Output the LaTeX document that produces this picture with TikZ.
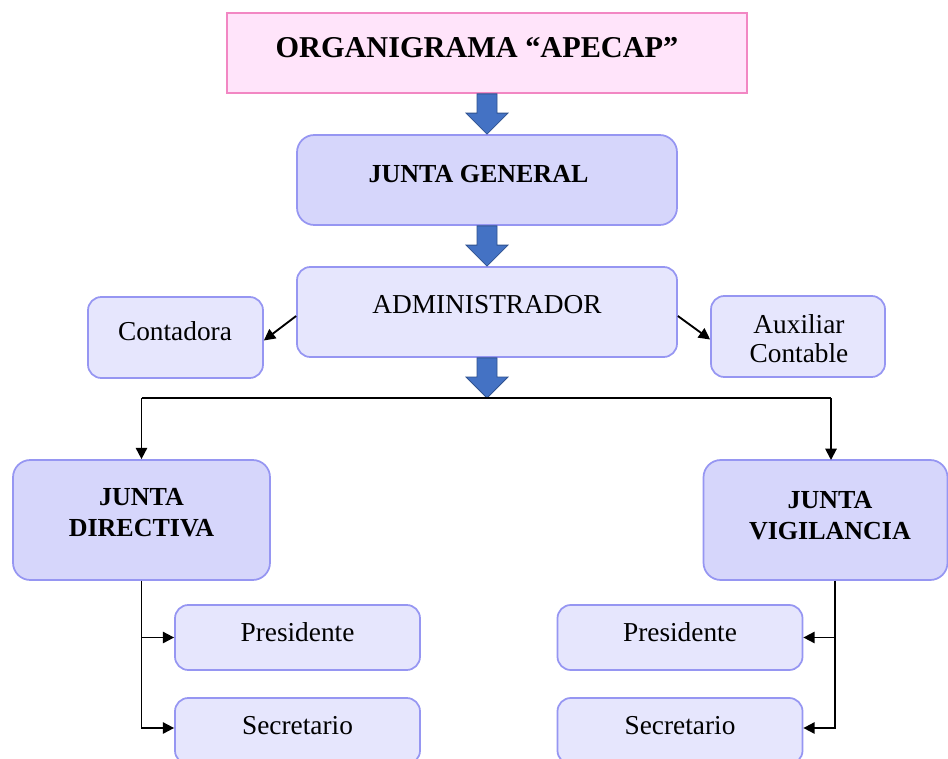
\documentclass[tikz,border=0pt]{standalone}
\usepackage{fontspec}
\setmainfont{Liberation Serif}
\usetikzlibrary{arrows.meta,calc}
\definecolor{darkfill}{RGB}{214,214,251}
\definecolor{lightfill}{RGB}{230,230,253}
\definecolor{boxline}{RGB}{150,150,242}
\definecolor{pinkfill}{RGB}{255,228,250}
\definecolor{pinkline}{RGB}{242,135,195}
\definecolor{bluearrow}{RGB}{68,114,196}
\definecolor{bluearrowline}{RGB}{47,82,143}
\tikzset{
  bigbox/.style={draw=boxline, line width=1.3pt, fill=darkfill, rounded corners=13pt, inner sep=0pt},
  smallbox/.style={draw=boxline, line width=1.3pt, fill=lightfill, rounded corners=10pt, inner sep=0pt},
  titlebox/.style={draw=pinkline, line width=1.3pt, fill=pinkfill, inner sep=0pt},
  boldtext/.style={font=\fontsize{19.5}{23.25}\selectfont\bfseries, align=center, inner sep=0pt},
  plaintext/.style={font=\fontsize{20.5}{21.75}\selectfont, align=center, inner sep=0pt},
  titletext/.style={font=\fontsize{22.7}{26}\selectfont\bfseries, inner sep=0pt},
  conn/.style={draw=black, line width=1.4pt, -{Triangle[length=8.5pt,width=8.5pt]}},
  plainline/.style={draw=black, line width=1.4pt},
  blockarrow/.style={draw=bluearrowline, line width=0.6pt, fill=bluearrow},
}
\newcommand\blockdown[2]{%
  \path[blockarrow] let \p1=(#1), \p2=(#2) in
    (\x1-7.5pt,\y1) -- (\x1-7.5pt,\y2+15.75pt) -- (\x1-15.75pt,\y2+15.75pt) --
    (\x1,\y2) -- (\x1+15.75pt,\y2+15.75pt) -- (\x1+7.5pt,\y2+15.75pt) --
    (\x1+7.5pt,\y1) -- cycle;}
\begin{document}
\begin{tikzpicture}[x=0.75pt,y=-0.75pt]
\useasboundingbox (0,0) rectangle (948,759);
\fill[white] (0,0) rectangle (948,759);

% boxes
\node[titlebox, minimum width=390pt, minimum height=60pt] (title) at (487,53) {};
\node[bigbox, minimum width=285pt, minimum height=67.5pt] (jg) at (487,180) {};
\node[smallbox, minimum width=285pt, minimum height=67.5pt] (adm) at (487,312) {};
\node[smallbox, minimum width=131.25pt, minimum height=60.75pt] (cont) at (175.5,337.5) {};
\node[smallbox, minimum width=130.5pt, minimum height=60.75pt] (aux) at (798,336.5) {};
\node[bigbox, minimum width=192.75pt, minimum height=90pt] (jd) at (141.5,520) {};
\node[bigbox, minimum width=183pt, minimum height=90pt] (jv) at (825.5,520) {};
\node[smallbox, minimum width=183.75pt, minimum height=48.75pt] (presL) at (297.5,637.5) {};
\node[smallbox, minimum width=183.75pt, minimum height=49.5pt] (secL) at (297.5,731) {};
\node[smallbox, minimum width=183.75pt, minimum height=48.75pt] (presR) at (680,637.5) {};
\node[smallbox, minimum width=183.75pt, minimum height=49.5pt] (secR) at (680,731) {};

% texts
\node[titletext] (titleT) at (477,47.5) {ORGANIGRAMA “APECAP”};
\node[boldtext] (jgT) at (478.5,174) {JUNTA GENERAL};
\node[plaintext] (admT) at (487,305) {ADMINISTRADOR};
\node[plaintext] (contT) at (175,331) {Contadora};
\node[plaintext] (auxT) at (799,339) {Auxiliar\\Contable};
\node[boldtext] (jdT) at (141.5,513) {JUNTA\\DIRECTIVA};
\node[boldtext] (jvT) at (830,516) {JUNTA\\VIGILANCIA};
\node[plaintext] (presLT) at (297.5,632) {Presidente};
\node[plaintext] (secLT) at (297.5,726) {Secretario};
\node[plaintext] (presRT) at (680,632) {Presidente};
\node[plaintext] (secRT) at (680,726) {Secretario};

% block arrows
\coordinate (split) at (488,398);
\coordinate (splitL) at (141.5,398);
\coordinate (splitR) at (831,398);
\coordinate (jvTop) at (831,460);
\blockdown{title.south}{jg.north}
\blockdown{jg.south}{adm.north}
\blockdown{adm.south}{split}

% connectors
\draw[conn] ([yshift=-3pt]adm.west) -- ([yshift=-2.25pt]cont.east);
\draw[conn] ([yshift=-3pt]adm.east) -- ([yshift=-2.25pt]aux.west);
\draw[plainline] (splitL) -- (splitR);
\draw[conn] (splitL) -- (jd.north);
\draw[conn] (splitR) -- (jvTop);
\draw[conn] (jd.south) |- (presL.west);
\draw[conn] (jd.south) |- ([yshift=2.25pt]secL.west);
\draw[conn] ([xshift=7pt]jv.south) |- (presR.east);
\draw[conn] ([xshift=7pt]jv.south) |- ([yshift=2.25pt]secR.east);
\end{tikzpicture}
\end{document}
